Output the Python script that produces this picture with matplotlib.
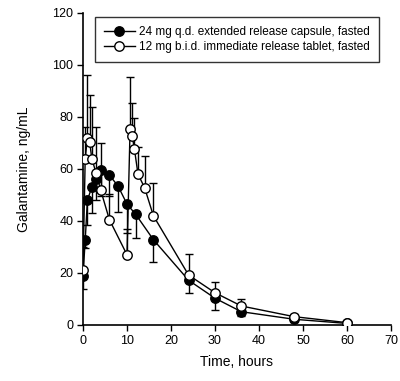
import matplotlib
matplotlib.use("Agg")
import matplotlib.pyplot as plt
import numpy as np

plt.rcParams['font.family'] = ['Liberation Sans', 'DejaVu Sans']

# 24 mg q.d. extended release capsule, fasted (filled)
t_er = [0, 0.5, 1, 2, 3, 4, 6, 8, 10, 12, 16, 24, 30, 36, 48, 60]
c_er = [19, 32.5, 48, 53, 56, 59.5, 57.7, 53.3, 46.5, 42.5, 32.8, 17.2, 10.3, 5.1, 2.2, 0.6]
err_er = [5, 3, 9.5, 10, 8, 10, 8, 10, 11, 9, 8.5, 5, 4.5, 1.5, 1, 0.3]

# 12 mg b.i.d. immediate release tablet, fasted (open)
t_ir = [0, 0.5, 1, 1.5, 2, 3, 4, 6, 10, 10.7, 11.2, 11.7, 12.5, 14, 16, 24, 30, 36, 48, 60]
c_ir = [21, 64, 72, 70.5, 64, 58.3, 52, 40.5, 27, 75.5, 72.5, 67.5, 58, 52.8, 42, 19.2, 12.4, 7.3, 3.2, 0.9]
err_ir = [9, 12, 24, 18, 20, 18, 18, 10, 10, 20, 13, 12, 10.5, 12, 12.5, 8, 4.3, 2.7, 1, 0.5]

labels = ["24 mg q.d. extended release capsule, fasted",
          "12 mg b.i.d. immediate release tablet, fasted"]

fig = plt.figure(figsize=(4.0, 3.81), dpi=100)
ax = fig.add_axes([0.2075, 0.147, 0.77, 0.819])

ax.errorbar(t_er, c_er, yerr=[err_er, np.zeros(len(err_er))], fmt='none',
            ecolor='black', elinewidth=1.0, capsize=3.2, capthick=1.0, zorder=2)
ax.errorbar(t_ir, c_ir, yerr=[np.zeros(len(err_ir)), err_ir], fmt='none',
            ecolor='black', elinewidth=1.0, capsize=3.2, capthick=1.0, zorder=2)

l1, = ax.plot(t_er, c_er, '-o', color='black', lw=1.0, markersize=6.8,
              markerfacecolor='black', markeredgecolor='black', zorder=3)
l2, = ax.plot(t_ir, c_ir, '-o', color='black', lw=1.0, markersize=6.8,
              markerfacecolor='white', markeredgecolor='black', markeredgewidth=1.0, zorder=4)

ax.set_xlim(0, 70)
ax.set_ylim(0, 120)
ax.set_xticks(np.arange(0, 71, 10))
ax.set_yticks(np.arange(0, 121, 20))
ax.spines['top'].set_visible(False)
ax.spines['right'].set_visible(False)
ax.spines['left'].set_linewidth(1.2)
ax.spines['bottom'].set_linewidth(1.2)
ax.tick_params(axis='both', direction='out', length=4, width=1.0, labelsize=9, pad=3)

ax.set_xlabel("Time, hours", fontsize=10, labelpad=6)
ax.set_ylabel("Galantamine, ng/mL", fontsize=10, labelpad=15)

leg = ax.legend([l1, l2], labels, loc='upper left', bbox_to_anchor=(0.039, 0.987),
                borderaxespad=0, fontsize=8.5, frameon=True, fancybox=False,
                handlelength=2.6, handletextpad=0.4, borderpad=0.75, labelspacing=0.3)
leg.get_frame().set_edgecolor('black')
leg.get_frame().set_linewidth(1.0)

fig.savefig("out.png", dpi=100)
